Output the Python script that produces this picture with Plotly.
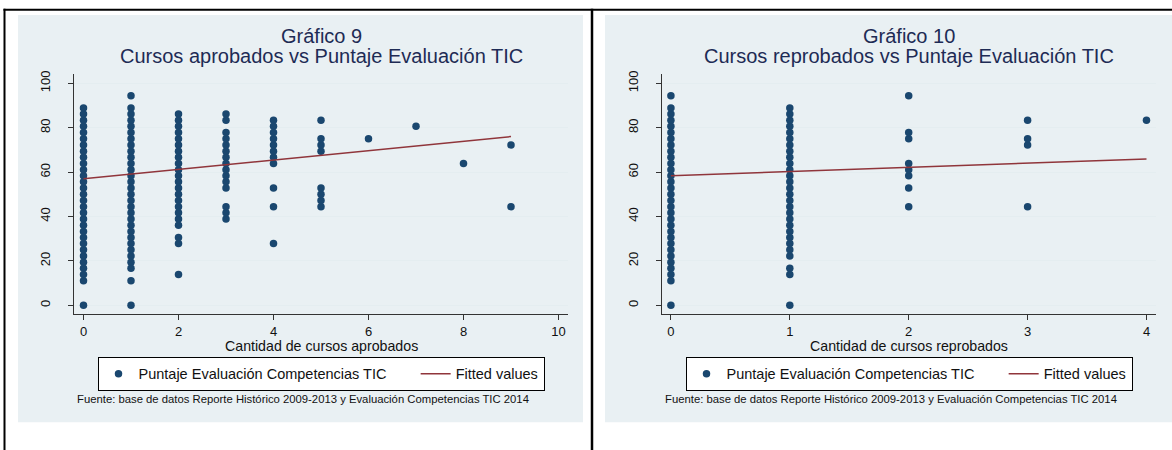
import plotly.graph_objects as go

W, H = 1172, 450

# ---------------- DATA ----------------
# Gráfico 9: scores by number of approved courses (x = 0..9)
apr_0 = [0.0, 11.1, 13.9, 16.7, 19.4, 22.2, 25.0, 27.8, 30.6, 33.3, 36.1, 38.9, 41.7, 44.4, 47.2,
         50.0, 52.8, 55.6, 58.3, 61.1, 63.9, 66.7, 69.4, 72.2, 75.0, 77.8, 80.6, 83.3, 86.1, 88.9]
apr_1 = [0.0, 11.1, 16.7, 19.4, 22.2, 25.0, 27.8, 30.6, 33.3, 36.1, 38.9, 41.7, 44.4, 47.2,
         50.0, 52.8, 55.6, 58.3, 61.1, 63.9, 66.7, 69.4, 72.2, 75.0, 77.8, 80.6, 83.3, 86.1, 88.9, 94.4]
apr_2 = [13.9, 27.8, 30.6, 36.1, 38.9, 41.7, 44.4, 47.2, 50.0, 52.8, 55.6, 58.3, 61.1, 63.9,
         66.7, 69.4, 72.2, 75.0, 77.8, 80.6, 83.3, 86.1]
apr_3 = [38.9, 41.7, 44.4, 52.8, 55.6, 58.3, 61.1, 63.9, 66.7, 69.4, 72.2, 75.0, 77.8, 83.3, 86.1]
apr_4 = [27.8, 44.4, 52.8, 63.9, 66.7, 69.4, 72.2, 75.0, 77.8, 80.6, 83.3]
apr_5 = [44.4, 47.2, 50.0, 52.8, 69.4, 72.2, 75.0, 83.3]
apr_6 = [75.0]
apr_7 = [80.6]
apr_8 = [63.9]
apr_9 = [44.4, 72.2]
apr_cols = [apr_0, apr_1, apr_2, apr_3, apr_4, apr_5, apr_6, apr_7, apr_8, apr_9]
fit_apr_x = [0, 9]
fit_apr_y = [57.0, 76.0]

# Gráfico 10: scores by number of failed courses (x = 0..4)
rep_0 = [0.0, 11.1, 13.9, 16.7, 19.4, 22.2, 25.0, 27.8, 30.6, 33.3, 36.1, 38.9, 41.7, 44.4, 47.2,
         50.0, 52.8, 55.6, 58.3, 61.1, 63.9, 66.7, 69.4, 72.2, 75.0, 77.8, 80.6, 83.3, 86.1, 88.9, 94.4]
rep_1 = [0.0, 13.9, 16.7, 22.2, 25.0, 27.8, 30.6, 33.3, 36.1, 38.9, 41.7, 44.4, 47.2, 50.0,
         52.8, 55.6, 58.3, 61.1, 63.9, 66.7, 69.4, 72.2, 75.0, 77.8, 80.6, 83.3, 86.1, 88.9]
rep_2 = [44.4, 52.8, 58.3, 61.1, 63.9, 75.0, 77.8, 94.4]
rep_3 = [44.4, 72.2, 75.0, 83.3]
rep_4 = [83.3]
rep_cols = [rep_0, rep_1, rep_2, rep_3, rep_4]
fit_rep_x = [0, 4]
fit_rep_y = [58.4, 65.9]

y_ticks = [0, 20, 40, 60, 80, 100]
x_ticks_apr = [0, 2, 4, 6, 8, 10]
x_ticks_rep = [0, 1, 2, 3, 4]

# ---------------- STYLE ----------------
FONT = "Liberation Sans, Arial, sans-serif"
NAVY = "#1A476F"
MAROON = "#90353B"
PANEL = "#E9F0F3"
GRID = "#E4EDF0"
AXIS = "#333333"
TITLE_C = "#1E2B55"
NBSP = "\u00a0"

def px_x(p):
    return p / W

def px_y(p):
    return 1 - p / H

def flatten(cols):
    xs, ys = [], []
    for k, col in enumerate(cols):
        xs += [k] * len(col)
        ys += col
    return xs, ys

ax_x, ax_y = flatten(apr_cols)
rx_x, rx_y = flatten(rep_cols)

fig = go.Figure()
marker = dict(color=NAVY, size=7.5, line=dict(width=0))
line = dict(color=MAROON, width=1.5)
name_pts = "Puntaje Evaluación Competencias TIC" + NBSP * 6
name_fit = "Fitted values"

fig.add_trace(go.Scatter(x=ax_x, y=ax_y, mode="markers", marker=marker,
                         name=name_pts, xaxis="x", yaxis="y", legend="legend"))
fig.add_trace(go.Scatter(x=fit_apr_x, y=fit_apr_y, mode="lines", line=line,
                         name=name_fit, xaxis="x", yaxis="y", legend="legend"))
fig.add_trace(go.Scatter(x=rx_x, y=rx_y, mode="markers", marker=marker,
                         name=name_pts, xaxis="x2", yaxis="y2", legend="legend2"))
fig.add_trace(go.Scatter(x=fit_rep_x, y=fit_rep_y, mode="lines", line=line,
                         name=name_fit, xaxis="x2", yaxis="y2", legend="legend2"))

# plot area pixel boxes
L1, R1 = 74, 568
L2, R2 = 662, 1156
TOP, BOT = 71, 313

def xaxis_cfg(dom, rng, ticks, anchor):
    return dict(domain=dom, range=rng, tickvals=ticks, ticks="outside", ticklen=5, tickwidth=1,
                tickcolor=AXIS, showline=True, linecolor=AXIS, linewidth=1, showgrid=False,
                zeroline=False, tickfont=dict(size=13, color="#111", family=FONT),
                anchor=anchor, fixedrange=True)

def yaxis_cfg(anchor):
    return dict(domain=[px_y(BOT), px_y(TOP)], range=[-4, 104], tickvals=y_ticks, ticks="outside",
                ticklen=5, tickwidth=1, tickcolor=AXIS, showline=True, linecolor=AXIS, linewidth=1,
                showgrid=True, gridcolor=GRID, gridwidth=1, zeroline=False, tickangle=-90,
                tickfont=dict(size=13, color="#111", family=FONT), ticklabelstandoff=13,
                anchor=anchor, fixedrange=True)

leg = dict(orientation="h", xanchor="center", y=px_y(356), yanchor="top",
           bgcolor="white", bordercolor="black", borderwidth=1,
           font=dict(size=14.5, color="#111", family=FONT))

fig.update_layout(
    width=W, height=H, autosize=False,
    margin=dict(l=0, r=0, t=0, b=0),
    paper_bgcolor="white", plot_bgcolor="white",
    font=dict(family=FONT, color="#111"),
    xaxis=xaxis_cfg([px_x(L1), px_x(R1)], [-0.2, 10.2], x_ticks_apr, "y"),
    yaxis=yaxis_cfg("x"),
    xaxis2=xaxis_cfg([px_x(L2), px_x(R2)], [-0.075, 4.08], x_ticks_rep, "y2"),
    yaxis2=yaxis_cfg("x2"),
    legend=dict(leg, x=px_x((L1 + R1) / 2)),
    legend2=dict(leg, x=px_x((L2 + R2) / 2)),
    showlegend=True,
)

shapes = [
    dict(type="rect", xref="paper", yref="paper", x0=px_x(18), x1=px_x(583), y0=px_y(422), y1=px_y(11),
         fillcolor=PANEL, line=dict(width=0), layer="below"),
    dict(type="rect", xref="paper", yref="paper", x0=px_x(605), x1=1, y0=px_y(422), y1=px_y(11),
         fillcolor=PANEL, line=dict(width=0), layer="below"),
    dict(type="line", xref="paper", yref="paper", x0=px_x(3.5), x1=1, y0=px_y(5.7), y1=px_y(5.7),
         line=dict(color="black", width=2)),
    dict(type="line", xref="paper", yref="paper", x0=px_x(4.5), x1=px_x(4.5), y0=px_y(4.7), y1=0,
         line=dict(color="black", width=2)),
    dict(type="line", xref="paper", yref="paper", x0=px_x(592), x1=px_x(592), y0=px_y(4.7), y1=0,
         line=dict(color="black", width=2.5)),
]
fig.update_layout(shapes=shapes)

def text_ann(cx, cy, text, size, color):
    return dict(text=text, x=px_x(cx), y=px_y(cy), xref="paper", yref="paper", showarrow=False,
                xanchor="center", yanchor="middle", font=dict(size=size, color=color, family=FONT))

note = "Fuente: base de datos Reporte Histórico 2009-2013 y Evaluación Competencias TIC 2014"
C1, C2 = (L1 + R1) / 2, (L2 + R2) / 2
anns = [
    text_ann(C1, 32, "Gráfico 9", 20, TITLE_C),
    text_ann(C1, 52, "Cursos aprobados vs Puntaje Evaluación TIC", 20, TITLE_C),
    text_ann(C2, 32, "Gráfico 10", 20, TITLE_C),
    text_ann(C2, 52, "Cursos reprobados vs Puntaje Evaluación TIC", 20, TITLE_C),
    text_ann(C1, 345, "Cantidad de cursos aprobados", 14.2, "#111"),
    text_ann(C2, 345, "Cantidad de cursos reprobados", 14.2, "#111"),
    text_ann(302.5, 399, note, 11.3, "#111"),
    text_ann(890.5, 399, note, 11.3, "#111"),
]
fig.update_layout(annotations=anns)

fig.write_html("out.html",
               config={"displayModeBar": False},
               post_script="document.body.style.margin='0';document.body.style.padding='0';"
                           "document.documentElement.style.overflow='hidden';")
